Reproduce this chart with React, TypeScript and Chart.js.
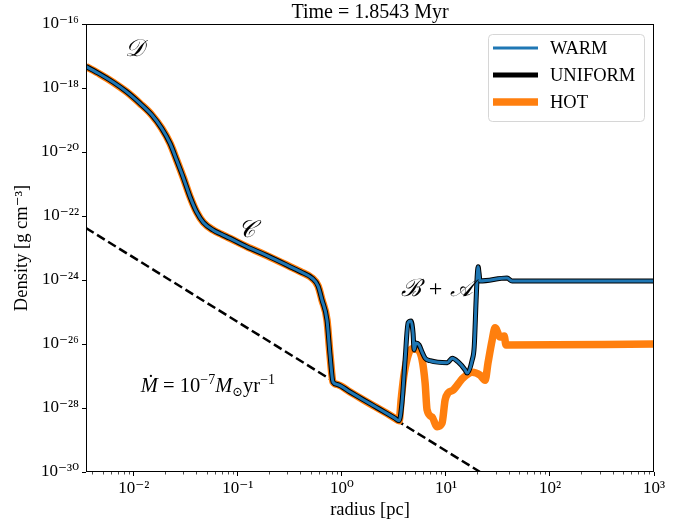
import React, { useEffect, useRef } from "react";
import { Chart, registerables } from "chart.js";

Chart.register(...registerables);

const FONT = "'Liberation Serif', 'DejaVu Serif', serif";

const titleText = "Time = 1.8543 Myr";
const xAxisTitle = "radius [pc]";
const yAxisTitle = "Density [g cm⁻³]";

const xMin = 0.00347;
const xMax = 1000;
const yMin = 1e-30;
const yMax = 1e-16;

const xMajorTicks = [1e-2, 1e-1, 1, 10, 100, 1000];
const xTickLabels = ["10⁻²", "10⁻¹", "10⁰", "10¹", "10²", "10³"];
const yMajorTicks = [1e-30, 1e-28, 1e-26, 1e-24, 1e-22, 1e-20, 1e-18, 1e-16];
const yTickLabels = ["10⁻³⁰", "10⁻²⁸", "10⁻²⁶", "10⁻²⁴", "10⁻²²", "10⁻²⁰", "10⁻¹⁸", "10⁻¹⁶"];

const seriesLabels = ["WARM", "UNIFORM", "HOT"];

// shared inner profile (all three runs coincide)
const innerRadius = [0.00347, 0.00473, 0.00634, 0.00853, 0.01146, 0.01486, 0.01854, 0.0223, 0.0258, 0.0299, 0.0347, 0.0402, 0.0466, 0.0581, 0.0692, 0.0841, 0.1216, 0.19, 0.341, 0.4, 0.516, 0.59, 0.644, 0.719, 0.769, 0.822, 0.9, 1.2, 1.6, 2.1, 2.7, 3.2, 3.55];
const innerDensity = [4.68e-18, 2.7e-18, 1.51e-18, 7.6e-19, 3.3e-19, 1.45e-19, 5.5e-20, 1.86e-20, 5.6e-21, 1.58e-21, 4.0e-22, 1.32e-22, 6.3e-23, 3.6e-23, 2.7e-23, 2.0e-23, 1.1e-23, 5.8e-24, 2.34e-24, 1.82e-24, 1.15e-24, 6.5e-25, 2.37e-25, 5.6e-26, 4.6e-27, 6.5e-28, 5.45e-28, 3.16e-28, 1.82e-28, 1.09e-28, 6.8e-29, 4.9e-29, 4.0e-29];

// outer profile, WARM (UNIFORM overlaps it)
const warmRadius = [3.78, 4.05, 4.33, 4.62, 4.83, 4.94, 5.16, 5.52, 5.9, 6.31, 7.05, 10.3, 11.5, 13.1, 15.3, 16.0, 17.9, 18.7, 19.5, 19.95, 20.4, 20.8, 21.3, 38.7, 43.3, 1000];
const warmDensity = [1.45e-28, 3.2e-27, 4.6e-26, 5.2e-26, 2.2e-26, 6.5e-27, 1.07e-26, 9.3e-27, 5.6e-27, 3.6e-27, 3.0e-27, 2.6e-27, 3.6e-27, 2.75e-27, 1.55e-27, 1.23e-27, 3.2e-27, 8.1e-27, 2.3e-25, 1.23e-24, 2.6e-24, 1.66e-24, 9.3e-25, 1.15e-24, 9.3e-25, 9.3e-25];

const uniformRadius = warmRadius;
const uniformDensity = warmDensity;

// outer profile, HOT
const hotRadius = [3.72, 3.98, 4.73, 5.4, 5.9, 6.31, 6.59, 7.36, 8.22, 9.18, 9.82, 10.5, 11.7, 14.6, 17.9, 21.3, 23.8, 25.4, 27.8, 29.7, 33.2, 36.3, 37.8, 1000];
const hotDensity = [2.0e-28, 1.26e-27, 7.1e-27, 6.5e-27, 3.2e-27, 6.0e-28, 8.7e-29, 5.2e-29, 2.6e-29, 3.4e-29, 1.78e-28, 2.95e-28, 3.6e-28, 8.7e-28, 1.32e-27, 1.07e-27, 7.4e-28, 2.6e-27, 1.32e-26, 3.2e-26, 1.66e-26, 1.78e-26, 9.3e-27, 1.0e-26];

// Mdot = 1e-7 Msun/yr reference line
const mdotRadius = [0.00347, 21.3];
const mdotDensity = [4.2e-23, 1.0e-30];

// region labels (data coordinates)
const regionLabels = ["𝒟", "𝒞", "ℬ + 𝒜"];
const regionRadius = [0.0102, 0.12, 8.2];
const regionDensity = [1.55e-17, 3.6e-23, 4.9e-25];
const mdotLabelRadius = 0.0516;
const mdotLabelDensity = 5.2e-28;

const COLORS = ["#1f77b4", "#000000", "#ff7f0e"];
const WIDTHS = [3, 5, 7.5];

function pts(rs: number[], ds: number[]) {
  return rs.map((r, i) => ({ x: r, y: ds[i] }));
}

const decorPlugin = {
  id: "decor",
  afterDraw(chart: any) {
    const { ctx, chartArea: a, scales } = chart;
    const xs = scales.x;
    const ys = scales.y;
    ctx.save();
    // minor x ticks
    ctx.strokeStyle = "#000";
    ctx.lineWidth = 0.7;
    for (let e = -3; e < 3; e++) {
      for (let k = 2; k <= 9; k++) {
        const v = k * Math.pow(10, e);
        if (v < xMin || v > xMax) continue;
        const px = Math.round(xs.getPixelForValue(v)) + 0.5;
        ctx.beginPath();
        ctx.moveTo(px, a.bottom);
        ctx.lineTo(px, a.bottom + 2.5);
        ctx.stroke();
      }
    }
    // frame
    ctx.lineWidth = 1;
    ctx.strokeRect(Math.round(a.left) + 0.5, Math.round(a.top) + 0.5, Math.round(a.right - a.left) - 1, Math.round(a.bottom - a.top) - 1);

    // title
    ctx.fillStyle = "#000";
    ctx.font = `20px ${FONT}`;
    ctx.textAlign = "center";
    ctx.textBaseline = "middle";
    ctx.fillText(titleText, (a.left + a.right) / 2, a.top - 11);

    // region labels
    ctx.font = `italic 24px ${FONT}`;
    regionLabels.forEach((t, i) => {
      ctx.fillText(t, xs.getPixelForValue(regionRadius[i]), ys.getPixelForValue(regionDensity[i]));
    });

    // Mdot label (rich text)
    const parts: { t: string; f: string; dy: number }[] = [
      { t: "Ṁ", f: `italic 20.5px ${FONT}`, dy: 0 },
      { t: " = 10", f: `20.5px ${FONT}`, dy: 0 },
      { t: "−7", f: `14px ${FONT}`, dy: -8 },
      { t: "M", f: `italic 20.5px ${FONT}`, dy: 0 },
      { t: "⊙", f: `13px ${FONT}`, dy: 4 },
      { t: "yr", f: `20.5px ${FONT}`, dy: 0 },
      { t: "−1", f: `14px ${FONT}`, dy: -8 },
    ];
    let total = 0;
    parts.forEach((p) => { ctx.font = p.f; total += ctx.measureText(p.t).width; });
    let cx = xs.getPixelForValue(mdotLabelRadius) - total / 2;
    const cy = ys.getPixelForValue(mdotLabelDensity);
    ctx.textAlign = "left";
    ctx.textBaseline = "alphabetic";
    parts.forEach((p) => {
      ctx.font = p.f;
      ctx.fillText(p.t, cx, cy + 7 + p.dy);
      cx += ctx.measureText(p.t).width;
    });

    // legend
    const bw = 156, bh = 87;
    const bx = a.right - 10 - bw;
    const by = a.top + 10;
    ctx.beginPath();
    if ((ctx as any).roundRect) (ctx as any).roundRect(bx + 0.5, by + 0.5, bw, bh, 4);
    else ctx.rect(bx + 0.5, by + 0.5, bw, bh);
    ctx.fillStyle = "rgba(255,255,255,0.8)";
    ctx.fill();
    ctx.strokeStyle = "#d6d6d6";
    ctx.lineWidth = 1;
    ctx.stroke();
    ctx.font = `18.5px ${FONT}`;
    ctx.textBaseline = "middle";
    seriesLabels.forEach((lab, i) => {
      const yy = by + 14 + i * 27;
      ctx.strokeStyle = COLORS[i];
      ctx.lineWidth = WIDTHS[i];
      ctx.lineCap = "butt";
      ctx.beginPath();
      ctx.moveTo(bx + 5, yy);
      ctx.lineTo(bx + 50, yy);
      ctx.stroke();
      ctx.fillStyle = "#000";
      ctx.fillText(lab, bx + 62, yy + 1);
    });
    ctx.restore();
  },
};

export default function App() {
  const ref = useRef<HTMLCanvasElement>(null);
  useEffect(() => {
    if (!ref.current) return;
    const common = { fill: false, pointRadius: 0, borderJoinStyle: "round" as const, borderCapStyle: "butt" as const, clip: 0, cubicInterpolationMode: "monotone" as const };
    const chart = new Chart(ref.current, {
      type: "line",
      data: {
        datasets: [
          { ...common, label: seriesLabels[0], data: pts([...innerRadius, ...warmRadius], [...innerDensity, ...warmDensity]), borderColor: COLORS[0], borderWidth: WIDTHS[0] },
          { ...common, label: seriesLabels[1], data: pts([...innerRadius, ...uniformRadius], [...innerDensity, ...uniformDensity]), borderColor: COLORS[1], borderWidth: WIDTHS[1] },
          { ...common, label: seriesLabels[2], data: pts([...innerRadius, ...hotRadius], [...innerDensity, ...hotDensity]), borderColor: COLORS[2], borderWidth: WIDTHS[2] },
          { ...common, label: "Mdot", data: pts(mdotRadius, mdotDensity), borderColor: "#000", borderWidth: 2.5, borderDash: [9, 4], cubicInterpolationMode: "default" as const, tension: 0 },
        ],
      },
      options: {
        animation: false,
        responsive: false,
        layout: { padding: { top: 24, right: 40, left: 0, bottom: 0 } },
        plugins: { legend: { display: false }, tooltip: { enabled: false }, title: { display: false } },
        scales: {
          x: {
            type: "logarithmic",
            min: xMin,
            max: xMax,
            afterBuildTicks: (s: any) => { s.ticks = xMajorTicks.map((v) => ({ value: v })); },
            afterFit: (s: any) => { s.height = 53; },
            ticks: {
              autoSkip: false,
              maxRotation: 0,
              padding: 2,
              color: "#000",
              font: { family: FONT, size: 17 },
              callback: (v: any) => { const i = xMajorTicks.findIndex((t) => Math.abs(Math.log10(t) - Math.log10(v)) < 1e-6); return i >= 0 ? xTickLabels[i] : ""; },
            },
            grid: { display: true, drawOnChartArea: false, drawTicks: true, tickLength: 4, tickColor: "#000", tickWidth: 1 },
            border: { display: false },
            title: { display: true, text: xAxisTitle, color: "#000", font: { family: FONT, size: 18.5 }, padding: { top: 0, bottom: 4 } },
          },
          y: {
            type: "logarithmic",
            min: yMin,
            max: yMax,
            afterBuildTicks: (s: any) => { s.ticks = yMajorTicks.map((v) => ({ value: v })); },
            afterFit: (s: any) => { s.width = 86; },
            ticks: {
              autoSkip: false,
              padding: 3,
              color: "#000",
              font: { family: FONT, size: 17 },
              callback: (v: any) => { const i = yMajorTicks.findIndex((t) => Math.abs(Math.log10(t) - Math.log10(v)) < 1e-6); return i >= 0 ? yTickLabels[i] : ""; },
            },
            grid: { display: true, drawOnChartArea: false, drawTicks: true, tickLength: 4, tickColor: "#000", tickWidth: 1 },
            border: { display: false },
            title: { display: true, text: yAxisTitle, color: "#000", font: { family: FONT, size: 18.5 }, padding: { top: 11, bottom: 0 } },
          },
        },
      },
      plugins: [decorPlugin],
    });
    return () => chart.destroy();
  }, []);
  return (
    <div style={{ position: "fixed", left: 0, top: 0, width: 694, height: 525, background: "#fff" }}>
      <canvas ref={ref} width={694} height={525} style={{ display: "block" }} />
    </div>
  );
}
